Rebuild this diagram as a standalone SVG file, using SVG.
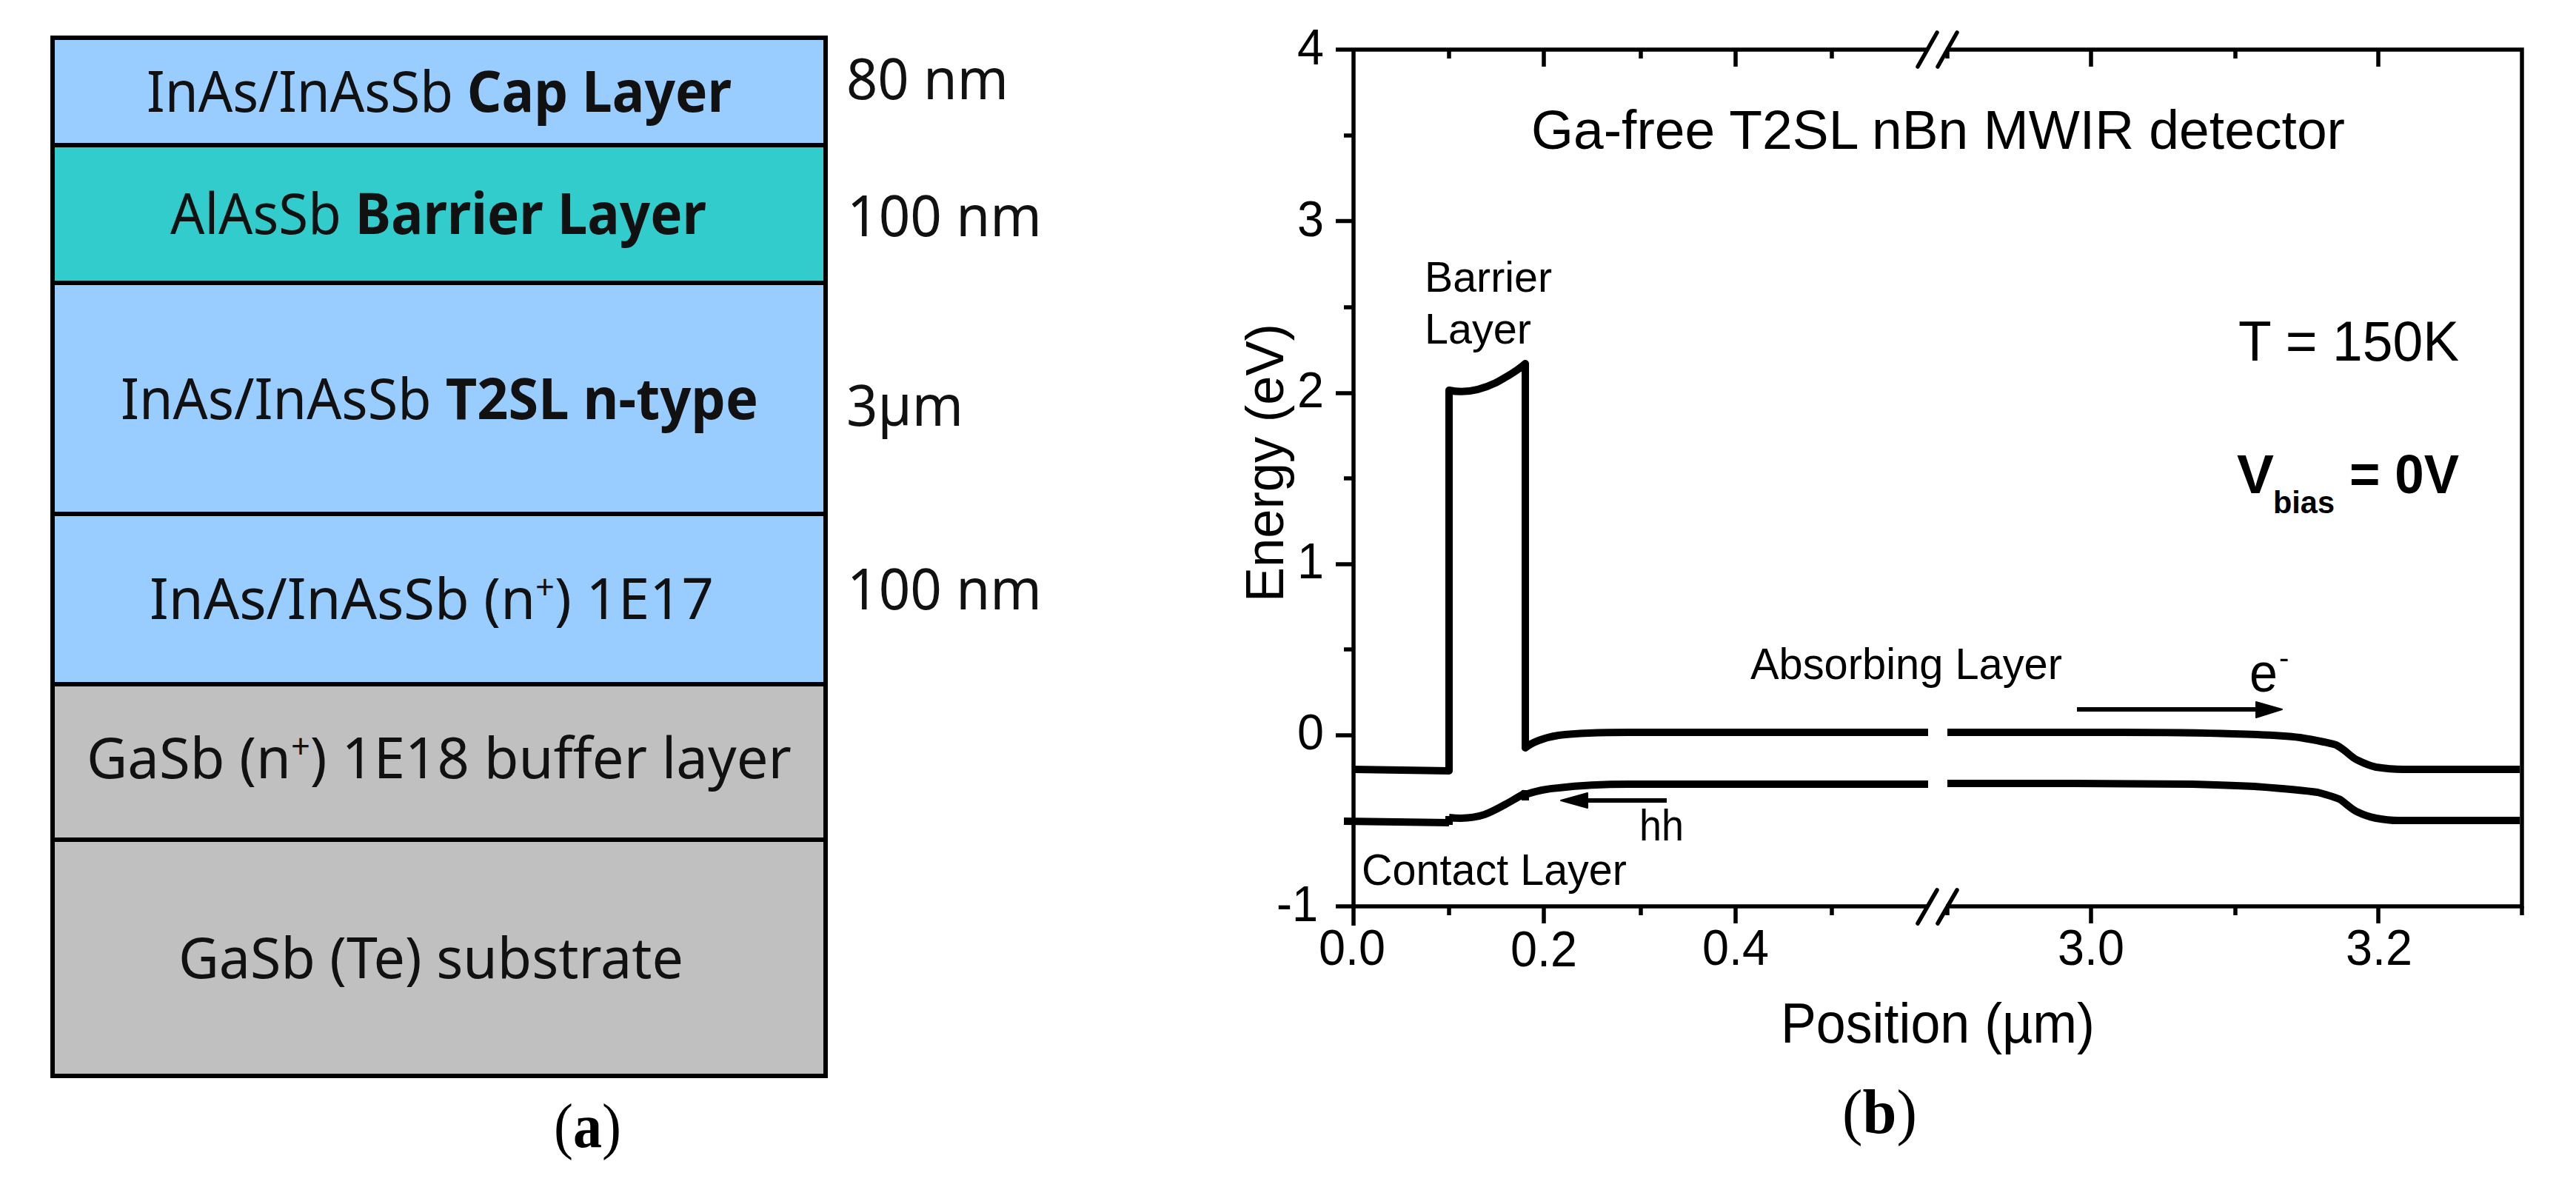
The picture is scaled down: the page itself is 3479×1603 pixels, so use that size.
<svg xmlns="http://www.w3.org/2000/svg" width="3479" height="1603" viewBox="0 0 3479 1603">
<style>
.l{stroke:#000;stroke-width:6}
.c{font-family:"Noto Sans","Open Sans",sans-serif;font-size:77px;fill:#111;text-anchor:start}
.b{font-weight:700}
.a{font-family:"Liberation Sans",Arial,sans-serif;fill:#000}
.n{font-size:69px;text-anchor:middle}
.y{font-size:69px;text-anchor:end}
.cap{font-family:"Liberation Serif","Times New Roman",serif;font-size:84px;fill:#000}
.ax{stroke:#000;stroke-width:5.500;fill:none}
.t{stroke:#000;stroke-width:5.500;fill:none}
.curve{stroke:#000;stroke-width:10;fill:none;stroke-linejoin:round}
.arr{stroke:#000;stroke-width:6;fill:none}
</style>
<rect width="3479" height="1603" fill="#fff"/>

<g id="layer-cap"><rect x="71" y="51" width="1044" height="145" fill="#99ccff" class="l"/>
<text class="c" x="198" y="151" textLength="790" lengthAdjust="spacingAndGlyphs">InAs/InAsSb <tspan class="b">Cap Layer</tspan></text></g>
<g id="layer-barrier"><rect x="71" y="196" width="1044" height="186" fill="#33cccc" class="l"/>
<text class="c" x="230" y="316" textLength="724" lengthAdjust="spacingAndGlyphs">AlAsSb <tspan class="b">Barrier Layer</tspan></text></g>
<g id="layer-t2sl"><rect x="71" y="382" width="1044" height="312" fill="#99ccff" class="l"/>
<text class="c" x="163" y="566" textLength="861" lengthAdjust="spacingAndGlyphs">InAs/InAsSb <tspan class="b">T2SL n-type</tspan></text></g>
<g id="layer-contact"><rect x="71" y="694" width="1044" height="230" fill="#99ccff" class="l"/>
<text class="c" x="202" y="836" textLength="762" lengthAdjust="spacingAndGlyphs">InAs/InAsSb (n<tspan dy="-27" font-size="46">+</tspan><tspan dy="27">) 1E17</tspan></text></g>
<g id="layer-buffer"><rect x="71" y="924" width="1044" height="210" fill="#c0c0c0" class="l"/>
<text class="c" x="117" y="1051" textLength="952" lengthAdjust="spacingAndGlyphs">GaSb (n<tspan dy="-27" font-size="46">+</tspan><tspan dy="27">) 1E18 buffer layer</tspan></text></g>
<g id="layer-substrate"><rect x="71" y="1134" width="1044" height="319" fill="#c0c0c0" class="l"/>
<text class="c" x="241" y="1321" textLength="682" lengthAdjust="spacingAndGlyphs">GaSb (Te) substrate</text></g>

<g id="thickness">
<text class="c" x="1143" y="134" textLength="219" lengthAdjust="spacingAndGlyphs">80 nm</text>
<text class="c" x="1144" y="319" textLength="263" lengthAdjust="spacingAndGlyphs">100 nm</text>
<text class="c" x="1143" y="575" textLength="158" lengthAdjust="spacingAndGlyphs">3µm</text>
<text class="c" x="1144" y="823" textLength="263" lengthAdjust="spacingAndGlyphs">100 nm</text>
</g>
<text id="caption-a" class="cap" x="748" y="1549" textLength="91" lengthAdjust="spacingAndGlyphs">(<tspan font-weight="700">a</tspan>)</text>

<g id="axes">
<path class="ax" d="M1804 67H2602M2628 67H3406V1224H2628M2602 1224H1804M1828 67V1250"/>
<path class="t" d="M1804 298.400H1828M1804 531H1828M1804 762H1828M1804 993H1828M1815 183H1828M1815 415H1828M1815 646H1828M1815 877H1828M1815 1109H1828"/>
<path class="t" d="M1957 67V79M2085 67V90M2216 67V79M2344 67V90M2474 67V79M2630 67V79M2824 67V90M3019 67V79M3212 67V90"/>
<path class="t" d="M1957 1224V1236M2085 1224V1247M2216 1224V1236M2344 1224V1247M2474 1224V1236M2630 1224V1236M2824 1224V1247M3019 1224V1236M3212 1224V1247M3406 1224V1236"/>
<path class="t" stroke-linecap="round" d="M2590 90L2616 44M2617 90L2643 44M2590 1247L2616 1202M2617 1247L2643 1202"/>
</g>
<g id="tick-labels">
<text class="a y" x="1788" y="87" textLength="36" lengthAdjust="spacingAndGlyphs">4</text>
<text class="a y" x="1788" y="319" textLength="36" lengthAdjust="spacingAndGlyphs">3</text>
<text class="a y" x="1788" y="550" textLength="36" lengthAdjust="spacingAndGlyphs">2</text>
<text class="a y" x="1788" y="781" textLength="36" lengthAdjust="spacingAndGlyphs">1</text>
<text class="a y" x="1788" y="1012" textLength="36" lengthAdjust="spacingAndGlyphs">0</text>
<text class="a y" x="1780" y="1244" textLength="56" lengthAdjust="spacingAndGlyphs">-1</text>
<text class="a n" x="1826" y="1303" textLength="90" lengthAdjust="spacingAndGlyphs">0.0</text>
<text class="a n" x="2085" y="1305" textLength="90" lengthAdjust="spacingAndGlyphs">0.2</text>
<text class="a n" x="2344" y="1303" textLength="90" lengthAdjust="spacingAndGlyphs">0.4</text>
<text class="a n" x="2824" y="1303" textLength="90" lengthAdjust="spacingAndGlyphs">3.0</text>
<text class="a n" x="3213" y="1303" textLength="90" lengthAdjust="spacingAndGlyphs">3.2</text>
</g>
<text id="x-title" class="a" x="2405" y="1408" font-size="76" textLength="424" lengthAdjust="spacingAndGlyphs">Position (µm)</text>
<text id="y-title" class="a" font-size="73" transform="translate(1733 813) rotate(-90)" textLength="376" lengthAdjust="spacingAndGlyphs">Energy (eV)</text>

<g id="bands">
<path class="curve" d="M1828 1039L1957 1041V527C1975 531 1995 529 2020 517C2035 509 2050 500 2060 491V1010C2068 1003 2085 996 2105 993C2130 990 2160 989 2200 989H2604"/>
<path class="curve" d="M2630 989H2864C2930 989 2985 990 3015 991C3060 992 3090 994 3106 996C3130 1000 3145 1003 3155 1006C3170 1014 3176 1024 3185 1027C3193 1031 3200 1034 3209 1036C3222 1038 3235 1039 3245 1039H3403"/>
<path class="curve" d="M1815 1109L1957 1111M1957 1102V1114M1957 1104C1975 1106 1990 1105 2005 1100C2022 1094 2040 1082 2060 1071M2060 1067V1081M2060 1073C2075 1068 2090 1065 2105 1064C2130 1061 2160 1059 2200 1059H2604"/>
<path class="curve" d="M2630 1058H2803L2961 1059C3000 1060 3025 1061 3045 1062C3085 1065 3110 1067 3130 1070C3145 1074 3155 1077 3161 1080C3172 1088 3177 1094 3185 1097C3193 1101 3200 1103 3209 1105C3220 1107 3230 1108 3239 1108H3403"/>
</g>
<g id="arrows">
<path class="arr" d="M2805 958H3050"/><path d="M3047 948L3082 958L3047 969Z" fill="#000" stroke="#000" stroke-width="2" stroke-linejoin="round"/>
<path class="arr" d="M2251 1081H2140"/><path d="M2144 1071L2108 1081L2144 1091Z" fill="#000" stroke="#000" stroke-width="2" stroke-linejoin="round"/>
</g>
<g id="plot-labels">
<text class="a" x="2068" y="201" font-size="74" textLength="1099" lengthAdjust="spacingAndGlyphs">Ga-free T2SL nBn MWIR detector</text>
<text class="a" x="1924" y="394" font-size="58" textLength="172" lengthAdjust="spacingAndGlyphs">Barrier</text>
<text class="a" x="1924" y="464" font-size="58" textLength="144" lengthAdjust="spacingAndGlyphs">Layer</text>
<text class="a" x="3023" y="487" font-size="76" textLength="298" lengthAdjust="spacingAndGlyphs">T = 150K</text>
<text class="a" x="3021" y="666" font-size="74" font-weight="700" textLength="50" lengthAdjust="spacingAndGlyphs">V</text>
<text class="a" x="3070" y="693" font-size="42" font-weight="700" textLength="83" lengthAdjust="spacingAndGlyphs">bias</text>
<text class="a" x="3173" y="666" font-size="74" font-weight="700" textLength="148" lengthAdjust="spacingAndGlyphs">= 0V</text>
<text class="a" x="2364" y="917" font-size="60" textLength="421" lengthAdjust="spacingAndGlyphs">Absorbing Layer</text>
<text class="a" x="3038" y="934" font-size="74" textLength="38" lengthAdjust="spacingAndGlyphs">e</text>
<text class="a" x="3078" y="902" font-size="40">-</text>
<text class="a" x="2214" y="1135" font-size="60" textLength="60" lengthAdjust="spacingAndGlyphs">hh</text>
<text class="a" x="1839" y="1195" font-size="60" textLength="358" lengthAdjust="spacingAndGlyphs">Contact Layer</text>
</g>
<text id="caption-b" class="cap" x="2488" y="1530" textLength="101" lengthAdjust="spacingAndGlyphs">(<tspan font-weight="700">b</tspan>)</text>
</svg>
